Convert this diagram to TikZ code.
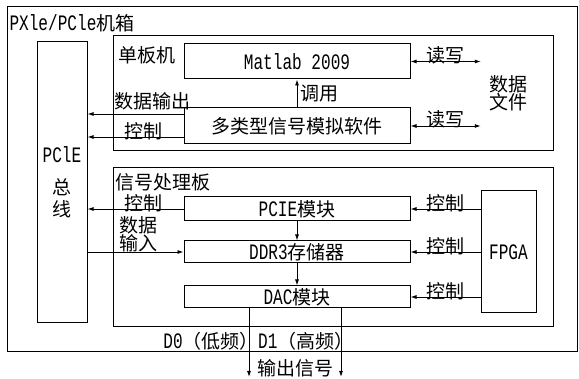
\documentclass[tikz,border=0pt]{standalone}
\usepackage{fontspec}
\setmainfont{Noto Sans CJK SC}
\newfontfamily\latfont{Liberation Mono}[Scale=1.16,FakeStretch=0.73]
\newcommand{\lat}[1]{{\latfont #1}}
\usetikzlibrary{arrows.meta,positioning}

\begin{document}
\begin{tikzpicture}[
  x=1pt, y=-1pt,
  font=\fontsize{19}{22}\selectfont,
  node distance=20pt,
  frame/.style={draw,line width=1pt,inner sep=0pt},
  unit/.style={frame,minimum width=226pt,minimum height=23pt},
  lab/.style={above,inner sep=0pt,yshift=-3pt},
  ar/.style={-{Latex[length=6pt,width=4pt]},line width=0.9pt},
  rw/.style={{Latex[length=6pt,width=4pt]}-{Latex[length=6pt,width=4pt]},line width=0.9pt}
]
\useasboundingbox (0,0) rectangle (579,379);
% chassis and bus
\node[frame,minimum width=570pt,minimum height=345pt] (chassis) at (292,179.5) {};
\node[anchor=west] (title) at (6,23) {\lat{PXle/PCle}机箱};
\node[frame,minimum width=50pt,minimum height=281pt,align=center] (bus) at (62,182.5)
      {\lat{PClE}\\[10pt]总\\线};
% single board computer
\node[frame,minimum width=440pt,minimum height=115pt] (sbc) at (333,93.5) {};
\node[anchor=west] (sbctitle) at (115,55) {单板机};
\node[unit,minimum height=35pt] (matlab) at (297,61.5) {\lat{Matlab 2009}};
\node[unit,minimum height=36pt,below=28pt of matlab] (sim) {多类型信号模拟软件};
\node[align=center,inner xsep=8.5pt,font=\fontsize{19}{18}\selectfont] (df) at (508.5,93.5)
      {数据\\文件};
% signal processing board
\node[frame,minimum width=440pt,minimum height=159pt] (dsp) at (333,247.5) {};
\node[anchor=west] (dsptitle) at (112,182) {信号处理板};
\node[unit,minimum height=24pt] (pcie) at (297,209) {\lat{PCIE}模块};
\node[unit,minimum height=22pt,below=19pt of pcie] (ddr) {\lat{DDR3}存储器};
\node[unit,minimum height=22pt,below=22pt of ddr] (dac) {\lat{DAC}模块};
\node[frame,minimum width=55pt,minimum height=122pt] (fpga) at (508.5,252) {\lat{FPGA}};

\draw[rw] (matlab.east) -- node[lab]{读写} (matlab.east -| df.west);
\draw[rw] (sim.east) -- node[lab]{读写} (sim.east -| df.west);
\draw[ar] (sim) -- node[right]{调用} (matlab);
\coordinate (dout) at ([yshift=12pt]sim.west);
\coordinate (cout) at ([yshift=-11pt]sim.west);
\draw[ar] (dout) -- node[lab,pos=.32,yshift=6pt]{数据输出} (dout -| bus.east);
\draw[ar] (cout) -- node[lab,pos=.42]{控制} (cout -| bus.east);
\draw[ar] (pcie.west) -- node[lab,pos=.42]{控制} (pcie.west -| bus.east);
\draw[ar] (bus.east |- ddr.west) -- node[lab,pos=.53,yshift=3pt,align=center,
      font=\fontsize{19}{18}\selectfont]{数据\\输入} (ddr.west);
\draw[ar] (pcie) -- (ddr);
\draw[ar] (ddr) -- (dac);
\foreach \m in {pcie,ddr,dac}
  \draw[ar] (fpga.west |- \m.east) -- node[lab]{控制} (\m.east);

% outputs
\coordinate (lo) at (249,377);
\coordinate (hi) at (341,377);
\draw[ar] (dac.south -| lo) -- (lo);
\draw[ar] (dac.south -| hi) -- (hi);
\node[anchor=east,inner sep=0pt] (d0) at (259,341) {\lat{D0}（低频）};
\node[anchor=west,inner sep=0pt] (d1) at (258,341) {\lat{D1}（高频）};
\node (out) at (295.5,368) {输出信号};
\end{tikzpicture}
\end{document}
